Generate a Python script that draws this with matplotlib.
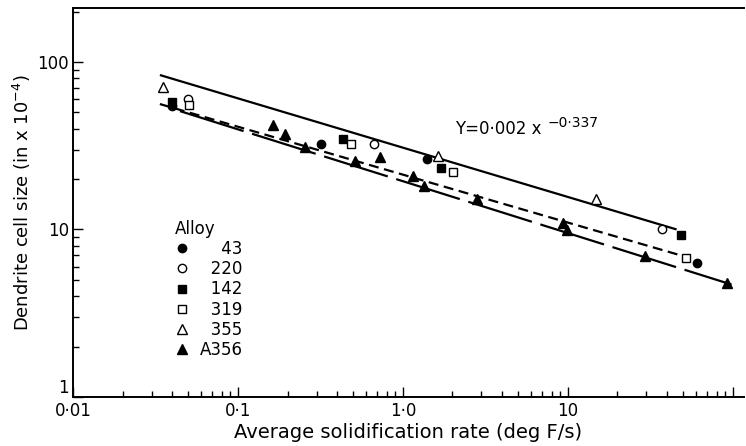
import numpy as np
import matplotlib
matplotlib.use("Agg")
import matplotlib.pyplot as plt
from matplotlib.ticker import FixedLocator, LogLocator, NullFormatter

plt.rcParams['font.family'] = ['DejaVu Sans']

# data (rate in deg F/s, cell size in x10^-4 in)
alloys = ['\u2007\u200743', '\u2007220', '\u2007142', '\u2007319', '\u2007355', 'A356']

x_43 = [0.040, 0.318, 1.40, 60.5]
y_43 = [54.6, 32.3, 26.2, 6.34]
x_220 = [0.050, 0.667, 37.2]
y_220 = [60.0, 32.3, 10.0]
x_142 = [0.040, 0.432, 1.70, 48.4]
y_142 = [57.5, 34.6, 23.2, 9.33]
x_319 = [0.0505, 0.484, 2.01, 51.9]
y_319 = [55.3, 32.3, 21.9, 6.80]
x_355 = [0.0351, 1.63, 14.8]
y_355 = [70.8, 27.4, 15.1]
x_a356 = [0.163, 0.193, 0.255, 0.512, 0.726, 1.15, 1.34, 2.81, 9.33, 9.86, 29.3, 92.0]
y_a356 = [42.0, 37.1, 31.0, 25.5, 27.0, 21.0, 18.1, 15.1, 10.9, 9.86, 6.98, 4.82]

# fitted lines, end points
upper_x = [0.0336, 45.8]
upper_y = [83.6, 10.0]
mid_x = [0.0336, 49.1]
mid_y = [56.1, 6.98]
lower_x = [0.0445, 98.6]
lower_y = [50.9, 4.69]

xticks = [0.01, 0.1, 1, 10, 100]
xtick_labels = ['0·01', '0·1', '1·0', '10', '']
yticks = [1, 10, 100]
ytick_labels = ['1', '10', '100']

fig = plt.figure(figsize=(7.46, 4.46), dpi=100)
ax = fig.add_axes([0.098, 0.110, 0.899, 0.872])
ax.set_xscale('log')
ax.set_yscale('log')

ax.plot(upper_x, upper_y, color='black', lw=1.6, solid_capstyle='butt')
ax.plot(mid_x, mid_y, color='black', lw=1.6, dashes=(4.5, 2.5))
ax.plot(lower_x, lower_y, color='black', lw=1.6, dashes=(30, 4))

mk = dict(color='black', linestyle='none', markeredgewidth=1.0, zorder=3)
h1, = ax.plot(x_43, y_43, marker='o', ms=6, mfc='black', **mk)
h2, = ax.plot(x_220, y_220, marker='o', ms=6, mfc='white', **mk)
h3, = ax.plot(x_142, y_142, marker='s', ms=5.5, mfc='black', **mk)
h4, = ax.plot(x_319, y_319, marker='s', ms=5.5, mfc='white', **mk)
h5, = ax.plot(x_355, y_355, marker='^', ms=7, mfc='white', **mk)
h6, = ax.plot(x_a356, y_a356, marker='^', ms=7, mfc='black', **mk)

leg = ax.legend([h1, h2, h3, h4, h5, h6], alloys, title='Alloy', frameon=False,
                loc='upper left', bbox_to_anchor=(0.152, 0.455), fontsize=12,
                title_fontsize=12, labelspacing=0.13, handlelength=0.8,
                handletextpad=0.7, borderaxespad=0, borderpad=0)
leg._legend_box.align = 'left'

ax.text(2.07, 37, 'Y=0·002 x', fontsize=12)
ax.annotate('−0·337', xy=(2.07, 37), xytext=(67, 5), textcoords='offset points',
            fontsize=10)

ax.set_xlim(0.01, 117)
ax.set_ylim(1, 210)
ax.xaxis.set_major_locator(FixedLocator(xticks))
ax.set_xticklabels(xtick_labels)
ax.yaxis.set_major_locator(FixedLocator(yticks))
ax.set_yticklabels(ytick_labels)
ax.get_yticklabels()[0].set_va('bottom')
ax.xaxis.set_minor_locator(LogLocator(base=10, subs=np.arange(2, 10)))
ax.yaxis.set_minor_locator(LogLocator(base=10, subs=np.arange(2, 10)))
ax.xaxis.set_minor_formatter(NullFormatter())
ax.yaxis.set_minor_formatter(NullFormatter())
ax.tick_params(which='both', direction='in', labelsize=12, width=1)
ax.tick_params(which='major', length=7)
ax.tick_params(axis='y', which='major', pad=3)
ax.tick_params(axis='x', which='major', pad=4)
ax.tick_params(which='minor', length=4)

ax.spines['right'].set_visible(False)
for s in ['left', 'bottom', 'top']:
    ax.spines[s].set_linewidth(1.4)

ax.set_xlabel('Average solidification rate (deg F/s)', fontsize=14, labelpad=2)
ax.set_ylabel('Dendrite cell size (in x 10$^{-4}$)', fontsize=13, labelpad=3)

fig.savefig('out.png', dpi=100)
